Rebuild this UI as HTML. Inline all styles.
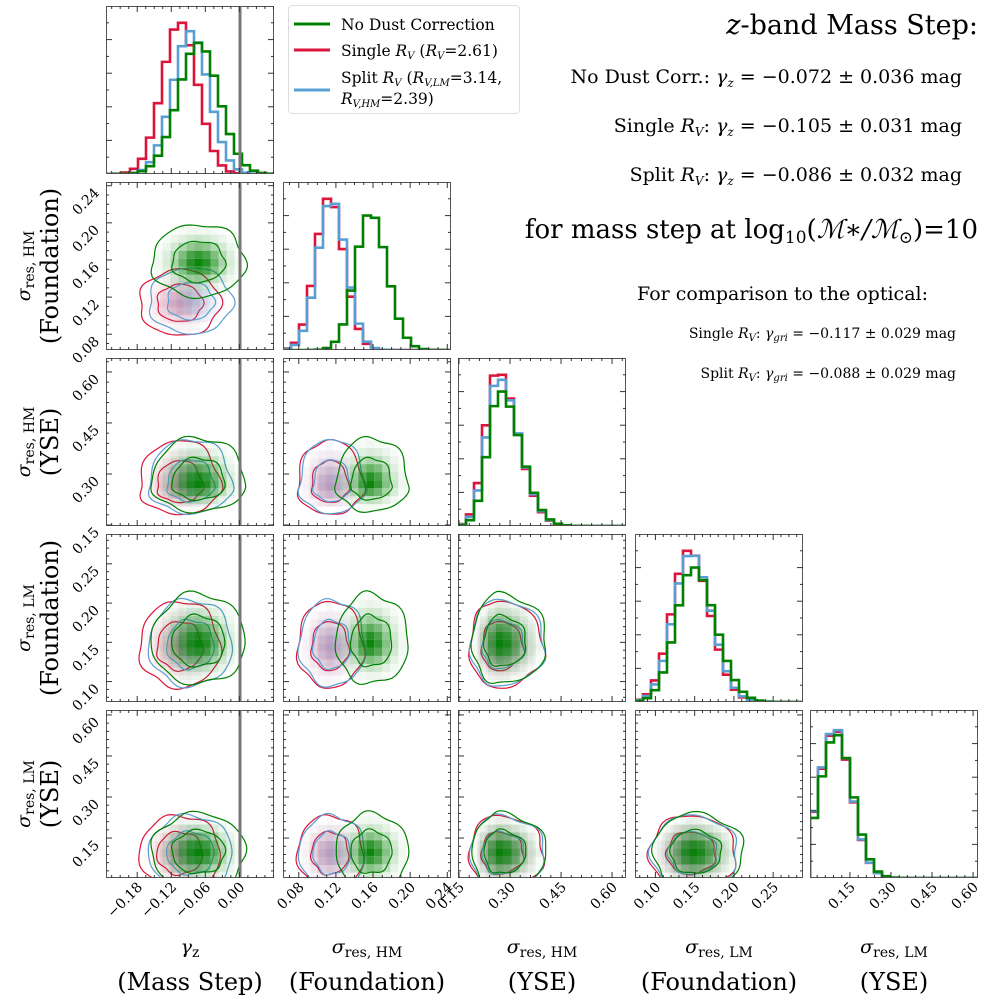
<!DOCTYPE html><html><head><meta charset="utf-8"><style>
html,body{margin:0;padding:0;background:#fff;width:996px;height:1001px;overflow:hidden}
svg{display:block;font-family:"DejaVu Serif","Liberation Serif",serif}
</style></head><body>
<svg id="s" width="996" height="1001" xmlns="http://www.w3.org/2000/svg">
<g id="g"></g>
<rect x="288.5" y="5.5" width="231" height="108" rx="4" fill="#fff" stroke="#ddd"/>
<line x1="294" y1="24" x2="330" y2="24" stroke="#008000" stroke-width="3"/>
<line x1="294" y1="50" x2="330" y2="50" stroke="#dc143c" stroke-width="3"/>
<line x1="294" y1="90" x2="330" y2="90" stroke="#5a9fd4" stroke-width="3"/>
<g font-size="15.5" fill="#000">
<text x="341" y="30">No Dust Correction</text>
<text x="341" y="56">Single <tspan font-style="italic">R<tspan font-size="10" dy="3">V</tspan></tspan><tspan dy="-3"> (</tspan><tspan font-style="italic">R<tspan font-size="10" dy="3">V</tspan></tspan><tspan dy="-3">=2.61)</tspan></text>
<text x="341" y="83">Split <tspan font-style="italic">R<tspan font-size="10" dy="3">V</tspan></tspan><tspan dy="-3"> (</tspan><tspan font-style="italic">R<tspan font-size="10" dy="3">V,LM</tspan></tspan><tspan dy="-3">=3.14,</tspan></text>
<text x="341" y="104"><tspan font-style="italic">R<tspan font-size="10" dy="3">V,HM</tspan></tspan><tspan dy="-3">=2.39)</tspan></text>
</g>
<g fill="#000" text-anchor="end">
<text x="978" y="34" font-size="27"><tspan font-style="italic">z</tspan>-band Mass Step:</text>
<text x="962" y="83" font-size="19">No Dust Corr.:  <tspan font-style="italic">γ<tspan font-size="12" dy="4">z</tspan></tspan><tspan dy="-4"> = −0.072 ± 0.036 mag</tspan></text>
<text x="962" y="132" font-size="19">Single <tspan font-style="italic">R<tspan font-size="12" dy="4">V</tspan></tspan><tspan dy="-4">:  </tspan><tspan font-style="italic">γ<tspan font-size="12" dy="4">z</tspan></tspan><tspan dy="-4"> = −0.105 ± 0.031 mag</tspan></text>
<text x="962" y="181" font-size="19">Split <tspan font-style="italic">R<tspan font-size="12" dy="4">V</tspan></tspan><tspan dy="-4">:  </tspan><tspan font-style="italic">γ<tspan font-size="12" dy="4">z</tspan></tspan><tspan dy="-4"> = −0.086 ± 0.032 mag</tspan></text>
<text x="978" y="238" font-size="26">for mass step at log<tspan font-size="17" dy="5">10</tspan><tspan dy="-5">(</tspan><tspan font-style="italic">ℳ∗/ℳ</tspan><tspan font-size="17" dy="5">⊙</tspan><tspan dy="-5">)=10</tspan></text>
<text x="928" y="300" font-size="19">For comparison to the optical:</text>
<text x="956" y="338" font-size="14">Single <tspan font-style="italic">R<tspan font-size="10" dy="3">V</tspan></tspan><tspan dy="-3">:   </tspan><tspan font-style="italic">γ<tspan font-size="10" dy="3">gri</tspan></tspan><tspan dy="-3"> = −0.117 ± 0.029 mag</tspan></text>
<text x="956" y="378" font-size="14">Split <tspan font-style="italic">R<tspan font-size="10" dy="3">V</tspan></tspan><tspan dy="-3">:   </tspan><tspan font-style="italic">γ<tspan font-size="10" dy="3">gri</tspan></tspan><tspan dy="-3"> = −0.088 ± 0.029 mag</tspan></text>
</g>
<g id="lab" fill="#000"></g>
</svg>
<script>
(function(){
var NS="http://www.w3.org/2000/svg",G=document.getElementById("g");
function el(t,a,p){var e=document.createElementNS(NS,t);for(var k in a)e.setAttribute(k,a[k]);(p||G).appendChild(e);return e;}
var C=[106,283,458,635,810],R=[6,182,358,534,710],W=168;
var AX=[{min:-0.235,max:0.061,t:[-0.18,-0.12,-0.06,0.00],m:0.015},
{min:0.063,max:0.244,t:[0.08,0.12,0.16,0.20,0.24],m:0.01},
{min:0.147,max:0.641,t:[0.15,0.30,0.45,0.60],m:0.03},
{min:0.074,max:0.288,t:[0.10,0.15,0.20,0.25],m:0.01},
{min:0.004,max:0.618,t:[0.15,0.30,0.45,0.60],m:0.03}];
var COL=["#dc143c","#5a9fd4","#008000"],RGB=[[220,20,60],[86,156,214],[0,128,0]];
var D=[[[-0.105,0.031,0.031],[-0.086,0.032,0.032],[-0.072,0.036,0.036]],
[[0.113,0.015,0.016],[0.115,0.015,0.016],[0.157,0.016,0.018]],
[[0.262,0.035,0.06],[0.265,0.035,0.06],[0.27,0.035,0.06]],
[[0.143,0.022,0.026],[0.145,0.022,0.026],[0.148,0.022,0.028]],
[[0.095,0.06,0.06],[0.095,0.06,0.06],[0.098,0.06,0.062]]];
function px(i,v){var a=AX[i];return C[i]+(v-a.min)/(a.max-a.min)*W;}
function py(r,i,v){var a=AX[i];return R[r]+W-(v-a.min)/(a.max-a.min)*W;}
function pdf(d,v){var s=v<d[0]?d[1]:d[2];var z=(v-d[0])/s;return Math.exp(-z*z/2);}
function fmt(v){var s=Math.abs(v).toFixed(2);return (v<-1e-9?"−":"")+s;}
function ticks(x0,y0,i,j,r){
 var a=AX[i];
 for(var v=Math.ceil(a.min/a.m-1e-6)*a.m;v<=a.max;v+=a.m){var X=px(i,v);var maj=a.t.some(function(t){return Math.abs(t-v)<a.m/3});var L=maj?6:3;
  el("line",{x1:X,y1:y0+W,x2:X,y2:y0+W-L,stroke:"#333","stroke-width":1});el("line",{x1:X,y1:y0,x2:X,y2:y0+L,stroke:"#333","stroke-width":1});}
 if(j>=0){var b=AX[j];for(var v=Math.ceil(b.min/b.m-1e-6)*b.m;v<=b.max;v+=b.m){var Y=py(r,j,v);var maj=b.t.some(function(t){return Math.abs(t-v)<b.m/3});var L=maj?6:3;
  el("line",{x1:x0,y1:Y,x2:x0+L,y2:Y,stroke:"#333","stroke-width":1});el("line",{x1:x0+W,y1:Y,x2:x0+W-L,y2:Y,stroke:"#333","stroke-width":1});}}
 else{for(var k=1;k<10;k++){var Y=y0+W*k/10;el("line",{x1:x0,y1:Y,x2:x0+(k%2?3:6),y2:Y,stroke:"#333"});el("line",{x1:x0+W,y1:Y,x2:x0+W-(k%2?3:6),y2:Y,stroke:"#333"});}}
}
for(var i=0;i<5;i++){
 var x0=C[i],y0=R[i],a=AX[i],nb=21,bw=(a.max-a.min)/nb;
 var cp=el("clipPath",{id:"c"+i});el("rect",{x:x0,y:y0,width:W,height:W},cp);
 var gg=el("g",{"clip-path":"url(#c"+i+")"});
 for(var s=0;s<3;s++){var d=D[i][s],h=[];
  for(var b=0;b<nb;b++){var v=a.min+(b+0.5)*bw;h.push(pdf(d,v));}
  var norm=Math.max.apply(null,h);var sc=[0.9,0.87,0.8][s];if(i==0)sc=[0.9,0.85,0.78][s];if(i==4)sc=[0.87,0.88,0.85][s];
  var p="M"+x0+","+(y0+W);
  for(var b=0;b<nb;b++){var Y=y0+W-h[b]/norm*sc*W;p+=" L"+(x0+b*W/nb)+","+Y+" L"+(x0+(b+1)*W/nb)+","+Y;}
  el("path",{d:p,fill:"none",stroke:COL[s],"stroke-width":2.6},gg);}
 if(i==0)el("line",{x1:240,y1:y0,x2:240,y2:y0+W,stroke:"#777","stroke-width":3},gg);
 el("rect",{x:x0+.5,y:y0+.5,width:W-1,height:W-1,fill:"none",stroke:"#555","stroke-width":1});
 ticks(x0,y0,i,-1,i);
}
for(var r=1;r<5;r++)for(var c=0;c<r;c++){
 var x0=C[c],y0=R[r];
 var cp=el("clipPath",{id:"k"+r+c});el("rect",{x:x0,y:y0,width:W,height:W},cp);
 var gg=el("g",{"clip-path":"url(#k"+r+c+")"});
 for(var s=0;s<3;s++){var dx=D[c][s],dy=D[r][s],rgb=RGB[s];
  var cs=8,cx=px(c,dx[0]),cy=py(r,r,dy[0]);
  var sx=(px(c,dx[0]+dx[1])-cx),sy=(cy-py(r,r,dy[0]+dy[1]));
  for(var gx=-6;gx<=6;gx++)for(var gy=-6;gy<=6;gy++){var X=cx+gx*cs,Y=cy+gy*cs;
   var zx=gx*cs/(gx<0?sx:sx*dx[2]/dx[1]),zy=-gy*cs/(gy>0?sy:sy*dy[2]/dy[1]);
   var o=Math.exp(-(zx*zx+zy*zy)*0.75)*(s==2?0.95:0.4);if(o<0.02)continue;
   el("rect",{x:X-cs/2,y:Y-cs/2,width:cs,height:cs,fill:"rgb("+rgb+")","fill-opacity":o.toFixed(3)},gg);}
  [1.3,2.3].forEach(function(k){var p="";for(var t=0;t<=64;t++){var th=t/64*2*Math.PI;var co=Math.cos(th),si=Math.sin(th);
    var wob=1+0.04*Math.sin(5*th+s+r)+0.03*Math.cos(7*th+c);
    var X=cx+k*wob*co*(co<0?sx:sx*dx[2]/dx[1]),Y=cy-k*wob*si*(si<0?sy:sy*dy[2]/dy[1]);p+=(t?"L":"M")+X.toFixed(1)+","+Y.toFixed(1);}
   el("path",{d:p+"Z",fill:"none",stroke:COL[s],"stroke-width":1.2},gg);});
 }
 if(c==0)el("line",{x1:240,y1:y0,x2:240,y2:y0+W,stroke:"#777","stroke-width":3},gg);
 el("rect",{x:x0+.5,y:y0+.5,width:W-1,height:W-1,fill:"none",stroke:"#555","stroke-width":1});
 ticks(x0,y0,c,r,r);
}
var LB=document.getElementById("lab");
for(var i=0;i<5;i++){AX[i].t.forEach(function(v){var X=px(i,v);var t=el("text",{x:X+6,y:R[4]+W+10,"font-size":14,"text-anchor":"end",transform:"rotate(-45 "+(X+6)+" "+(R[4]+W+10)+")"},LB);t.textContent=fmt(v);});}
for(var r=1;r<5;r++){AX[r].t.forEach(function(v){var Y=py(r,r,v);var t=el("text",{x:100,y:Y+8,"font-size":14,"text-anchor":"end",transform:"rotate(-45 100 "+(Y+8)+")"},LB);t.textContent=fmt(v);});}
var TOPL=[["γ","z"],["σ","res, HM"],["σ","res, HM"],["σ","res, LM"],["σ","res, LM"]],BOTL=["(Mass Step)","(Foundation)","(YSE)","(Foundation)","(YSE)"];
function sym(t,k){var a=el("tspan",{"font-style":"italic"},t);a.textContent=TOPL[k][0];var b=el("tspan",{"font-size":14,dy:4},t);b.textContent=TOPL[k][1];}
for(var i=0;i<5;i++){var X=C[i]+W/2;
 var t=el("text",{x:X,y:953,"font-size":19,"text-anchor":"middle"},LB);sym(t,i);
 var t2=el("text",{x:X,y:990,"font-size":24,"text-anchor":"middle"},LB);t2.textContent=BOTL[i];}
for(var r=1;r<5;r++){var Y=R[r]+W/2;
 var t=el("text",{x:0,y:0,"font-size":19,"text-anchor":"middle",transform:"translate(30 "+Y+") rotate(-90)"},LB);sym(t,r);
 var t2=el("text",{x:0,y:0,"font-size":24,"text-anchor":"middle",transform:"translate(58 "+Y+") rotate(-90)"},LB);t2.textContent=BOTL[r];}
})();
</script>
</body></html>
